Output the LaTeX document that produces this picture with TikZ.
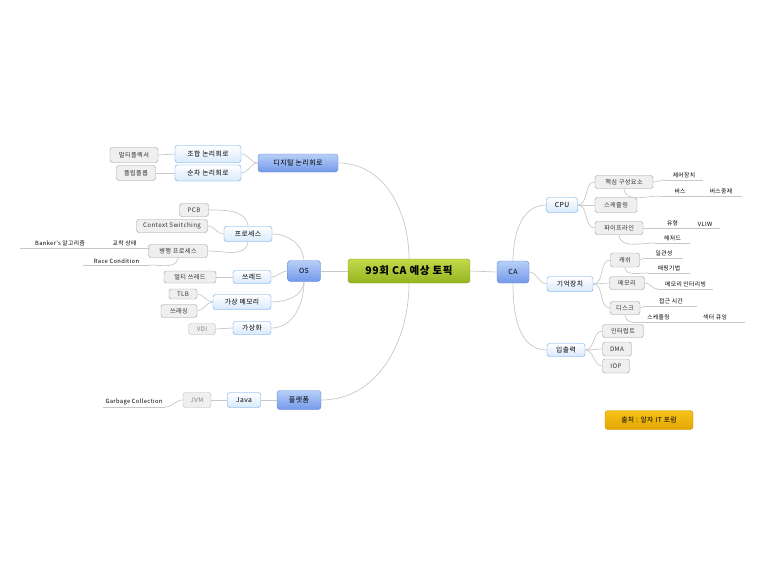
\documentclass[tikz,border=0pt]{standalone}
\usepackage{fontspec}
\setmainfont{Noto Sans CJK KR}[LetterSpace=6]
\usetikzlibrary{positioning}
\definecolor{linegray}{HTML}{C8C8C8}
\definecolor{roottop}{HTML}{C4DA4C}
\definecolor{rootbot}{HTML}{94B41E}
\definecolor{rootedge}{HTML}{86A019}
\definecolor{topictop}{HTML}{B7CFF8}
\definecolor{topicbot}{HTML}{7499EA}
\definecolor{topicedge}{HTML}{5B84D6}
\definecolor{subbot}{HTML}{D8E9FB}
\definecolor{subedge}{HTML}{5CA2EE}
\definecolor{boxfill}{HTML}{EFEFEF}
\definecolor{boxedge}{HTML}{9A9A9A}
\definecolor{srctop}{HTML}{F6C21A}
\definecolor{srcbot}{HTML}{E3A700}
\definecolor{srcedge}{HTML}{C08E00}
\tikzset{wh/.style 2 args={minimum width=#1pt, minimum height=#2pt, inner sep=0pt}}

\begin{document}
\begin{tikzpicture}[
    x=1pt, y=-1pt,
    root/.style={rectangle, draw=rootedge, rounded corners=3pt, top color=roottop, bottom color=rootbot, font=\fontsize{10.5}{12}\selectfont\bfseries},
    topic/.style={rectangle, draw=topicedge, rounded corners=3pt, top color=topictop, bottom color=topicbot, font=\fontsize{7}{8}\selectfont},
    sub/.style={rectangle, draw=subedge, rounded corners=2.5pt, top color=white, bottom color=subbot, font=\fontsize{6.8}{7}\selectfont},
    box/.style={rectangle, draw=boxedge, rounded corners=2.5pt, fill=boxfill, text=black!80, font=\fontsize{6.2}{7}\selectfont},
    faint/.style={box, draw=boxedge!70, text=black!50},
    source/.style={rectangle, draw=srcedge, rounded corners=3pt, top color=srctop, bottom color=srcbot, font=\fontsize{6.8}{7}\selectfont},
    leaf/.style={anchor=south, inner xsep=0pt, inner ysep=1.5pt, font=\fontsize{5.8}{6}\selectfont,
      append after command={(\tikzlastnode.south west) edge[branch] (\tikzlastnode.south east)}},
    branch/.style={draw=linegray, line width=0.7pt}
  ]
  \useasboundingbox (0,0) rectangle (765,576);

  % --- 1. 중심 / 주 토픽 ---
  \node[root, wh={122}{24}] (root) at (409,271) {99회 CA 예상 토픽};
  \node[topic, wh={32}{22}] (ca) at (513,272) {CA};
  \node[topic, wh={33}{21}] (os) at (304,271) {OS};
  \node[topic, wh={80}{18}] (digital) at (298,163) {디지털 논리회로};
  \node[topic, wh={44}{19}] (plat) at (299,400) {플랫폼};

  % --- 2. 왼쪽 가지 ---
  \node[sub, wh={66}{17}] (comb) at (208,154) {조합 논리회로};
  \node[sub, wh={66}{16}] (seq) at (208,173) {순차 논리회로};
  \node[box, wh={48}{15}] (mux) at (134,155) {멀티플렉서};
  \node[box, wh={39}{15}] (flip) at (136,173) {플립플롭};

  \node[sub, wh={48}{15}] (proc) at (248,234) {프로세스};
  \node[box, wh={29}{13}] (pcb) at (194,210) {PCB};
  \node[box, wh={71}{13}] (ctx) at (172,226) {Context Switching};
  \node[box, wh={59}{13}] (par) at (178,251) {병행 프로세스};
  \node[leaf, minimum width=49pt] (dead) at (124.5,248) {교착 상태};
  \node[leaf, minimum width=80pt] (banker) at (60,248) {Banker's 알고리즘};
  \node[leaf, minimum width=67pt] (race) at (116.5,265) {Race Condition};

  \node[sub, wh={38}{13}] (thread) at (252,277) {쓰레드};
  \node[box, wh={52}{12}] (mthread) at (190,277) {멀티 쓰레드};
  \node[sub, wh={58}{15}] (vmem) at (242,302) {가상 메모리};
  \node[box, wh={28}{10}] (tlb) at (183,294) {TLB};
  \node[box, wh={36}{13}] (thrash) at (179,311) {쓰래싱};
  \node[sub, wh={38}{13}] (virt) at (252,328) {가상화};
  \node[faint, wh={27}{11}] (vdi) at (202,329) {VDI};

  \node[sub, wh={33}{15}] (java) at (244,400) {Java};
  \node[faint, wh={28}{15}] (jvm) at (197,400) {JVM};
  \node[leaf, minimum width=62pt] (gc) at (134,407) {Garbage Collection};

  % --- 3. 오른쪽 가지 (CA) ---
  \node[sub, wh={31}{15}] (cpu) at (562,205) {CPU};
  \node[box, wh={58}{13}] (core) at (624,182) {핵심 구성요소};
  \node[box, wh={42}{15}] (sched) at (616,205) {스케줄링};
  \node[box, wh={48}{13}] (pipe) at (619,228) {파이프라인};
  \node[leaf, minimum width=38pt] (ctrl) at (684,180) {제어장치};
  \node[leaf, minimum width=40pt] (bus) at (680,196) {버스};
  \node[leaf, minimum width=42pt] (busarb) at (721,196) {버스중재};
  \node[leaf, minimum width=35pt] (kind) at (672.5,228) {유형};
  \node[leaf, minimum width=30pt] (vliw) at (705,228) {VLIW};
  \node[leaf, minimum width=35pt] (hazard) at (672.5,243) {해저드};

  \node[sub, wh={46}{15}] (store) at (570,284) {기억장치};
  \node[box, wh={29}{14}] (cache) at (625,260) {캐쉬};
  \node[box, wh={35}{13}] (memory) at (627,283) {메모리};
  \node[box, wh={30}{13}] (disk) at (625,308) {디스크};
  \node[leaf, minimum width=38pt] (coher) at (664,258) {일관성};
  \node[leaf, minimum width=42pt] (mapping) at (669,273) {매핑기법};
  \node[leaf, minimum width=55pt] (interleave) at (685.5,289) {메모리 인터리빙};
  \node[leaf, minimum width=52pt] (access) at (671,306) {접근 시간};
  \node[leaf, minimum width=53pt] (dsched) at (658.5,322) {스케줄링};
  \node[leaf, minimum width=60pt] (sector) at (715,322) {섹터 큐잉};

  \node[sub, wh={38}{13}] (io) at (566,350) {입출력};
  \node[box, wh={41}{13}] (intr) at (623,331) {인터럽트};
  \node[box, wh={29}{14}] (dma) at (617,349) {DMA};
  \node[box, wh={27}{14}] (iop) at (616,366) {IOP};

  \node[source, wh={88}{19}] (src) at (649,420) {출처 : 알자 IT 포럼};

  % --- 4. 연결선 ---
  \draw[branch] (root.north) to[out=90, in=0] (digital.east);
  \draw[branch] (root.west) -- (os.east);
  \draw[branch] (root.south) to[out=-90, in=0] (plat.east);
  \draw[branch] (root.east) -- (ca.west);

  \draw[branch] (digital.west) to[out=180, in=0] (comb.east);
  \draw[branch] (digital.west) to[out=180, in=0] (seq.east);
  \draw[branch] (comb.west) -- (mux.east);
  \draw[branch] (seq.west) -- (flip.east);

  \draw[branch] (os.north) to[out=95, in=0] (proc.east);
  \draw[branch] (os.west) to[out=180, in=0] (thread.east);
  \draw[branch] (os.south) to[out=-95, in=0] (vmem.east);
  \draw[branch] (os.south) to[out=-90, in=0] (virt.east);
  \draw[branch] (proc.north) to[out=95, in=0] (pcb.east);
  \draw[branch] (proc.west) to[out=180, in=0] (ctx.east);
  \draw[branch] (proc.south) to[out=-95, in=0] (par.east);
  \draw[branch] (par.west) -- (dead.south east);
  \draw[branch] (par.south) to[out=-95, in=0] (race.south east);
  \draw[branch] (thread.west) -- (mthread.east);
  \draw[branch] (vmem.west) to[out=180, in=0] (tlb.east);
  \draw[branch] (vmem.west) to[out=180, in=0] (thrash.east);
  \draw[branch] (virt.west) -- (vdi.east);

  \draw[branch] (plat.west) -- (java.east);
  \draw[branch] (java.west) -- (jvm.east);
  \draw[branch] (jvm.west) to[out=180, in=0] (gc.south east);

  \draw[branch] (ca.north) to[out=90, in=180] (cpu.west);
  \draw[branch] (ca.east) to[out=0, in=180] (store.west);
  \draw[branch] (ca.south) to[out=-90, in=180] (io.west);

  \draw[branch] (cpu.east) to[out=0, in=180] (core.west);
  \draw[branch] (cpu.east) -- (sched.west);
  \draw[branch] (cpu.east) to[out=0, in=180] (pipe.west);
  \draw[branch] (core.east) to[out=0, in=180] (ctrl.south west);
  \draw[branch] (core.south) to[out=-85, in=180] (bus.south west);
  \draw[branch] (pipe.east) -- (kind.south west);
  \draw[branch] (pipe.south) to[out=-85, in=180] (hazard.south west);

  \draw[branch] (store.east) to[out=0, in=180] (cache.west);
  \draw[branch] (store.east) -- (memory.west);
  \draw[branch] (store.east) to[out=0, in=180] (disk.west);
  \draw[branch] (cache.east) to[out=0, in=180] (coher.south west);
  \draw[branch] (cache.south) to[out=-85, in=180] (mapping.south west);
  \draw[branch] (memory.east) to[out=0, in=180] (interleave.south west);
  \draw[branch] (disk.east) to[out=0, in=180] (access.south west);
  \draw[branch] (disk.south) to[out=-85, in=180] (dsched.south west);

  \draw[branch] (io.east) to[out=0, in=180] (intr.west);
  \draw[branch] (io.east) to[out=0, in=180] (dma.west);
  \draw[branch] (io.east) to[out=0, in=180] (iop.west);
\end{tikzpicture}
\end{document}
